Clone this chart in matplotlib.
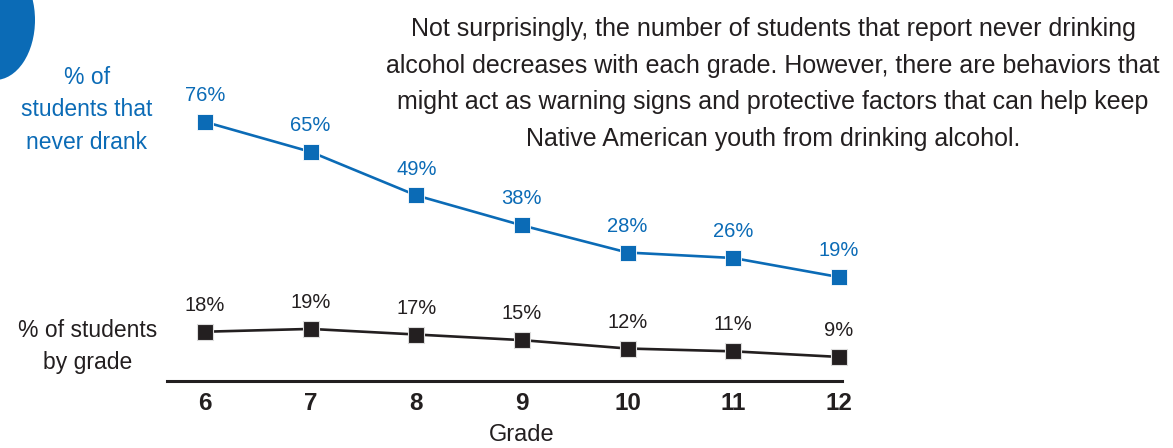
import matplotlib.pyplot as plt
from matplotlib.patches import Ellipse

# data
grades = [6, 7, 8, 9, 10, 11, 12]
never_drank = [76, 65, 49, 38, 28, 26, 19]
by_grade = [18, 19, 17, 15, 12, 11, 9]

BLUE = "#0b6bb6"
DARK = "#231f20"
plt.rcParams['font.family'] = ["Liberation Sans", "DejaVu Sans"]

W, H = 1173, 448
fig = plt.figure(figsize=(W / 100, H / 100), dpi=100)

# axes box in pixels: x 167..842, y 80..381
ax = fig.add_axes([167 / W, 1 - 381 / H, (842 - 167) / W, (381 - 80) / H])
ax2 = ax.twinx()

ax.set_xlim(5.64, 12.03)
ax.set_ylim(-19.2, 91.4)     # blue series
ax2.set_ylim(0.4, 107.9)     # black series

ax.plot(grades, never_drank, color=BLUE, lw=1.9, marker="s", ms=12,
        mfc=BLUE, mec="white", mew=0.6, zorder=3, clip_on=False)
ax2.plot(grades, by_grade, color=DARK, lw=1.9, marker="s", ms=12,
         mfc=DARK, mec="#dddddd", mew=0.8, zorder=3, clip_on=False)

for g, v in zip(grades, never_drank):
    ax.annotate(f"{v}%", (g, v), xytext=(0, 19), textcoords="offset points",
                ha="center", va="center", fontsize=14.5, color=BLUE)
for g, v in zip(grades, by_grade):
    ax2.annotate(f"{v}%", (g, v), xytext=(0, 19), textcoords="offset points",
                 ha="center", va="center", fontsize=14.5, color=DARK)

for a in (ax, ax2):
    for s in ("top", "left", "right"):
        a.spines[s].set_visible(False)
    a.set_yticks([])
    a.patch.set_visible(False)
ax.spines["bottom"].set_linewidth(2.2)
ax.spines["bottom"].set_color(DARK)
ax2.spines["bottom"].set_visible(False)

ax.set_xticks(grades)
ax.set_xticklabels([str(g) for g in grades], fontsize=17.5, fontweight="bold",
                   color=DARK)
ax.tick_params(axis="x", length=0, pad=8)

fig.text(522 / W, 1 - 435 / H, "Grade", ha="center", va="center",
         fontsize=17, color=DARK)

fig.text(87 / W, 1 - 110 / H, "% of\nstudents that\nnever drank", ha="center",
         va="center", fontsize=16.5, color=BLUE, linespacing=1.55)
fig.text(88 / W, 1 - 346 / H, "% of students\nby grade", ha="center",
         va="center", fontsize=16.5, color=DARK, linespacing=1.5)

fig.text(773 / W, 1 - 84 / H,
         "Not surprisingly, the number of students that report never drinking\n"
         "alcohol decreases with each grade. However, there are behaviors that\n"
         "might act as warning signs and protective factors that can help keep\n"
         "Native American youth from drinking alcohol.",
         ha="center", va="center", fontsize=18, color=DARK, linespacing=1.66)

# blue blob in the top-left corner
fig.patches.append(Ellipse((-5 / W, 1 - 20 / H), 80 / W, 120 / H,
                           transform=fig.transFigure, color=BLUE, lw=0))

fig.savefig("out.png", dpi=100)
